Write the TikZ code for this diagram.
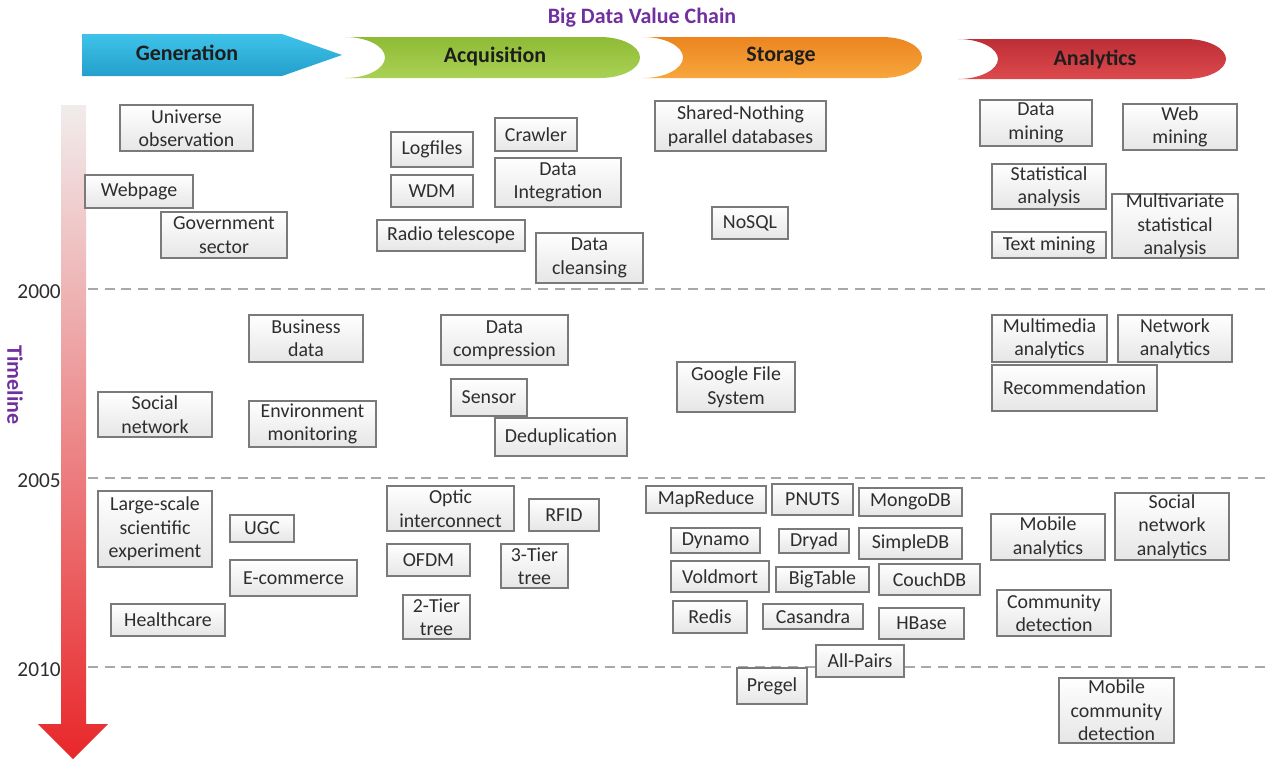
\documentclass[tikz,border=0pt]{standalone}
\usepackage{fontspec}
\setmainfont{Carlito}
\usetikzlibrary{shadows}
\definecolor{ttl}{HTML}{7030A0}
\definecolor{boxline}{HTML}{7A7A7A}
\definecolor{boxbot}{HTML}{E6E6E6}
\definecolor{boxtxt}{HTML}{2E2E2E}
\definecolor{hdrtxt}{HTML}{1E1E1E}
\definecolor{dashc}{HTML}{A8A8A8}
\definecolor{genA}{HTML}{3FC3EA}
\definecolor{genB}{HTML}{239FCB}
\definecolor{acqA}{HTML}{8EBB35}
\definecolor{acqB}{HTML}{AAD155}
\definecolor{stoA}{HTML}{EC8520}
\definecolor{stoB}{HTML}{F7A63D}
\definecolor{anaA}{HTML}{BE2E36}
\definecolor{anaB}{HTML}{DC4A4D}
\definecolor{tlA}{HTML}{F1ECEC}
\definecolor{tlB}{HTML}{E8272A}
\newcommand\bx[6]{\node[box, minimum width={(#4-#2)*0.75pt}, minimum height={(#5-#3)*0.75pt}] (#1) at ({(#2+#4)/2},{(#3+#5)/2}) {#6};}
\begin{document}
\begin{tikzpicture}[x=0.75pt,y=-0.75pt,
  box/.style={draw=boxline, line width=0.8pt, top color=white, bottom color=boxbot,
    inner sep=0pt, align=center, text=boxtxt, font=\fontsize{14.9}{17.6}\selectfont,
    drop shadow={shadow xshift=0.9pt, shadow yshift=-0.9pt, fill=black, opacity=0.18}},
  hdr/.style={font=\fontsize{16.5}{19}\selectfont\bfseries, text=hdrtxt, inner sep=0pt},
  year/.style={font=\fontsize{16}{18}\selectfont, text=boxtxt, anchor=east, inner sep=0pt},
  yearline/.style={draw=dashc, line width=1.1pt, dash pattern=on 7.5pt off 5pt}]
\useasboundingbox (0,0) rectangle (1270,760);

% title
\node[font=\fontsize{16.5}{19}\selectfont\bfseries, text=ttl, inner sep=0pt] (title) at (642,18) {Big Data Value Chain};

% header shapes
\shade[top color=genA, bottom color=genB] (82,34) -- (282,34) -- (342,55) -- (282,76) -- (82,76) -- cycle;
\shade[top color=acqA, bottom color=acqB] (345,37) -- (600,37) .. controls (622,37) and (640,46.2) .. (640,57.5) .. controls (640,68.8) and (622,78) .. (600,78) -- (345,78) .. controls (367,78) and (385,68.8) .. (385,57.5) .. controls (385,46.2) and (367,37) .. (345,37) -- cycle;
\shade[top color=stoA, bottom color=stoB] (643,37) -- (882,37) .. controls (904,37) and (922,46.2) .. (922,57.5) .. controls (922,68.8) and (904,78) .. (882,78) -- (643,78) .. controls (665,78) and (683,68.8) .. (683,57.5) .. controls (683,46.2) and (665,37) .. (643,37) -- cycle;
\shade[top color=anaA, bottom color=anaB] (958,39) -- (1186,39) .. controls (1208,39) and (1226,48.2) .. (1226,59) .. controls (1226,69.8) and (1208,79) .. (1186,79) -- (958,79) .. controls (980,79) and (998,69.8) .. (998,59) .. controls (998,48.2) and (980,39) .. (958,39) -- cycle;
\node[hdr] (hgen) at (187,53) {Generation};
\node[hdr] (hacq) at (495,56) {Acquisition};
\node[hdr] (hsto) at (781,56) {Storage};
\node[hdr] (hana) at (1095,59) {Analytics};

% timeline arrow
\shade[top color=tlA, bottom color=tlB] (61,105) -- (86,105) -- (86,724) -- (108,724) -- (73,759) -- (38,724) -- (61,724) -- cycle;
\node[font=\fontsize{16.5}{19}\selectfont\bfseries, text=ttl, rotate=-90, inner sep=0pt] (tl) at (15,385) {Timeline};

% year lines
\coordinate (l2000) at (1270,289);
\coordinate (l2005) at (1270,478);
\coordinate (l2010) at (1270,667);
\node[year] (y2000) at (61,292) {2000};
\node[year] (y2005) at (61,481) {2005};
\node[year] (y2010) at (61,670) {2010};
\draw[yearline] (88,289) -- (l2000);
\draw[yearline] (88,478) -- (l2005);
\draw[yearline] (88,667) -- (l2010);

% Generation
\bx{univ}{120}{105}{253}{151}{Universe\\observation}
\bx{web}{85}{175}{193}{208}{Webpage}
\bx{gov}{161}{212}{287}{258}{Government\\sector}
\bx{bus}{249}{315}{363}{362}{Business\\data}
\bx{soc}{98}{392}{212}{437}{Social\\network}
\bx{env}{249}{401}{376}{447}{Environment\\monitoring}
\bx{lsse}{98}{491}{212}{567}{Large-scale\\scientific\\experiment}
\bx{ugc}{230}{515}{294}{542}{UGC}
\bx{ecom}{230}{560}{357}{596}{E-commerce}
\bx{health}{111}{604}{225}{636}{Healthcare}

% Acquisition
\bx{logf}{391}{132}{473}{167}{Logfiles}
\bx{crawl}{495}{118}{577}{151}{Crawler}
\bx{wdm}{391}{175}{473}{207}{WDM}
\bx{dint}{495}{158}{621}{207}{Data\\Integration}
\bx{radio}{377}{220}{525}{251}{Radio telescope}
\bx{dclean}{536}{233}{643}{283}{Data\\cleansing}
\bx{dcomp}{441}{315}{568}{365}{Data\\compression}
\bx{sensor}{451}{379}{527}{416}{Sensor}
\bx{dedup}{495}{418}{627}{456}{Deduplication}
\bx{optic}{387}{486}{514}{531}{Optic\\interconnect}
\bx{rfid}{529}{499}{599}{531}{RFID}
\bx{ofdm}{387}{544}{470}{576}{OFDM}
\bx{tier3}{501}{544}{568}{588}{3-Tier\\tree}
\bx{tier2}{403}{595}{470}{639}{2-Tier\\tree}

% Storage
\bx{snpd}{655}{101}{826}{151}{Shared-Nothing\\parallel databases}
\bx{nosql}{712}{207}{788}{239}{NoSQL}
\bx{gfs}{677}{362}{795}{412}{Google File\\System}
\bx{mapr}{646}{486}{766}{513}{MapReduce}
\bx{pnuts}{772}{484}{853}{515}{PNUTS}
\bx{mongo}{859}{488}{962}{516}{MongoDB}
\bx{dynamo}{671}{528}{760}{553}{Dynamo}
\bx{dryad}{779}{529}{849}{553}{Dryad}
\bx{simpledb}{859}{528}{962}{559}{SimpleDB}
\bx{voldm}{671}{561}{769}{592}{Voldmort}
\bx{bigt}{776}{567}{869}{592}{BigTable}
\bx{couch}{879}{564}{980}{595}{CouchDB}
\bx{redis}{673}{601}{747}{633}{Redis}
\bx{casa}{763}{604}{863}{629}{Casandra}
\bx{hbase}{879}{608}{964}{639}{HBase}
\bx{allp}{816}{645}{904}{677}{All-Pairs}
\bx{pregel}{737}{668}{807}{704}{Pregel}

% Analytics
\bx{dmin}{980}{100}{1092}{146}{Data\\mining}
\bx{wmin}{1123}{104}{1237}{150}{Web\\mining}
\bx{stat}{992}{164}{1106}{209}{Statistical\\analysis}
\bx{mvsa}{1112}{194}{1238}{258}{Multivariate\\statistical\\analysis}
\bx{tmin}{992}{232}{1106}{258}{Text mining}
\bx{mma}{992}{315}{1107}{362}{Multimedia\\analytics}
\bx{neta}{1118}{315}{1232}{362}{Network\\analytics}
\bx{recom}{992}{365}{1157}{411}{Recommendation}
\bx{moba}{991}{514}{1105}{560}{Mobile\\analytics}
\bx{sna}{1115}{493}{1229}{560}{Social\\network\\analytics}
\bx{comd}{997}{590}{1111}{636}{Community\\detection}
\bx{mcd}{1059}{678}{1174}{743}{Mobile\\community\\detection}
\end{tikzpicture}
\end{document}
